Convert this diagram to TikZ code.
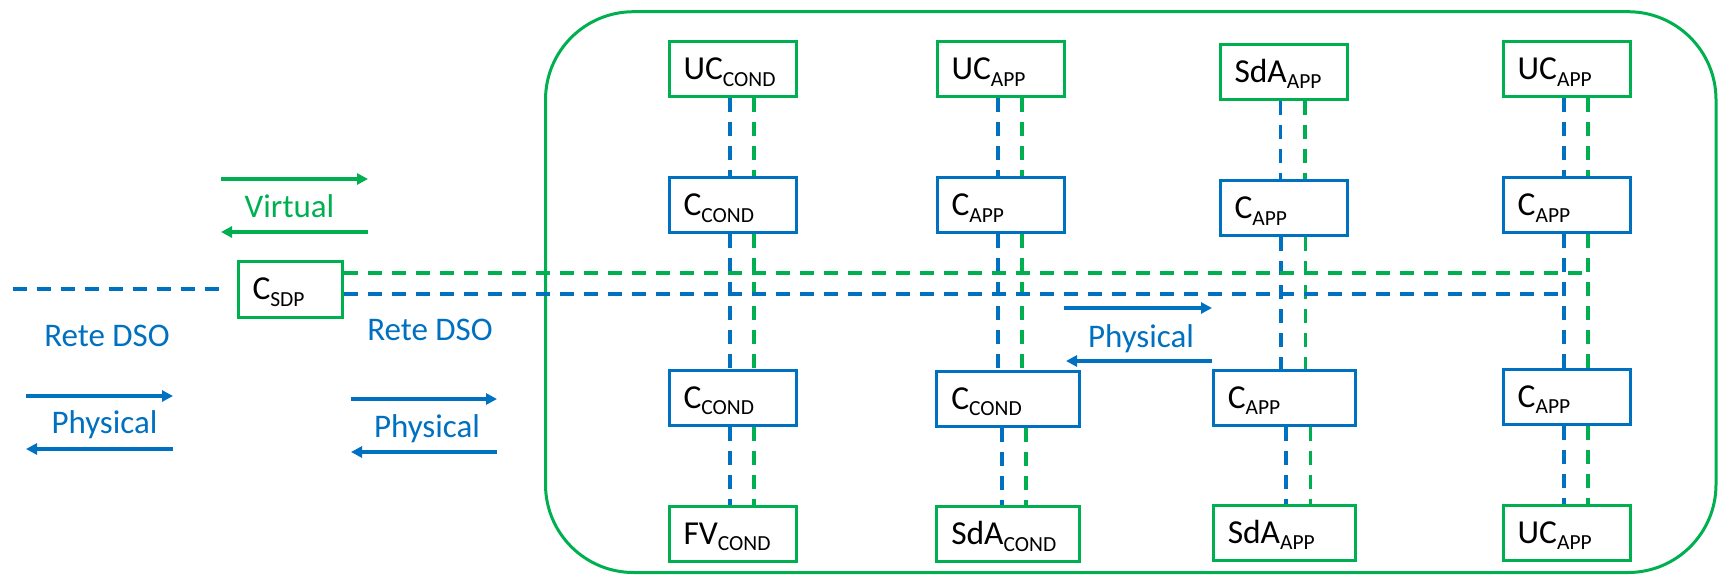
\documentclass[tikz,border=0pt]{standalone}
\usepackage{fontspec}
\setmainfont{Carlito}
\usetikzlibrary{arrows.meta}
\definecolor{ablue}{HTML}{0070C0}
\definecolor{agreen}{HTML}{00B050}
\newcommand{\lsub}[1]{\raisebox{-6.5pt}{\fontsize{21.5}{24}\selectfont #1}}
\begin{document}
\begin{tikzpicture}[x=1pt,y=-1pt,
  box/.style={draw, line width=3pt, inner xsep=14.5pt, inner ysep=0pt, minimum height=55pt,
    text height=24pt, text depth=3pt, align=left, text=black, font=\fontsize{33.5}{40}\selectfont},
  gbox/.style={box, draw=agreen},
  bbox/.style={box, draw=ablue},
  w1/.style={text width=98pt},
  w2/.style={text width=113.5pt},
  bd/.style={draw=ablue, line width=3.3pt, dash pattern=on 14pt off 10pt},
  gd/.style={draw=agreen, line width=3.3pt, dash pattern=on 14pt off 10pt},
  arr/.style={line width=3.2pt, -{Triangle[length=11pt,width=11pt]}},
  lbl/.style={anchor=base, font=\fontsize{33}{40}\selectfont, inner sep=0pt},
]
\useasboundingbox (0,0) rectangle (1718,574);

% outer frame
\draw[draw=agreen, line width=3pt, rounded corners=88pt] (545.5,11.7) rectangle (1716,572.5);

% top row
\node[gbox,w1] (uc1) at (732.5,69) {UC\lsub{COND}};
\node[gbox,w1] (uc2) at (1000.5,69) {UC\lsub{APP}};
\node[gbox,w1] (sda3) at (1283.5,71.7) {SdA\lsub{APP}};
\node[gbox,w1] (uc4) at (1566.7,69) {UC\lsub{APP}};
% second row
\node[bbox,w1] (c1) at (732.5,205.2) {C\lsub{COND}};
\node[bbox,w1] (c2) at (1000.5,205.2) {C\lsub{APP}};
\node[bbox,w1] (c3) at (1283.5,208) {C\lsub{APP}};
\node[bbox,w1] (c4) at (1566.7,205.2) {C\lsub{APP}};
% third row
\node[bbox,w1] (d1) at (732.5,397.8) {C\lsub{COND}};
\node[bbox,w2] (d2) at (1008,398.5) {C\lsub{COND}};
\node[bbox,w2] (d3) at (1284.5,397.5) {C\lsub{APP}};
\node[bbox,w1] (d4) at (1566.7,396.7) {C\lsub{APP}};
% bottom row
\node[gbox,w1] (e1) at (732.5,533.8) {FV\lsub{COND}};
\node[gbox,w2] (e2) at (1008,534) {SdA\lsub{COND}};
\node[gbox,w2] (e3) at (1284.5,532.8) {SdA\lsub{APP}};
\node[gbox,w1] (e4) at (1566.7,532.8) {UC\lsub{APP}};
% C_SDP
\node[gbox,text width=75pt,minimum height=56pt] (sdp) at (290,289) {C\lsub{SDP}};

% column 1
\draw[bd] ([xshift=-2.5pt]uc1.south) -- ([xshift=-2.5pt]c1.north);
\draw[gd] ([xshift=21.5pt]uc1.south) -- ([xshift=21.5pt]c1.north);
\draw[bd] ([xshift=-2.5pt]c1.south) -- ([xshift=-2.5pt]d1.north);
\draw[gd] ([xshift=21.5pt]c1.south) -- ([xshift=21.5pt]d1.north);
\draw[bd] ([xshift=-2.5pt]d1.south) -- ([xshift=-2.5pt]e1.north);
\draw[gd] ([xshift=21.5pt]d1.south) -- ([xshift=21.5pt]e1.north);
% column 2
\draw[bd] ([xshift=-2.5pt]uc2.south) -- ([xshift=-2.5pt]c2.north);
\draw[gd] ([xshift=21.5pt]uc2.south) -- ([xshift=21.5pt]c2.north);
\draw[bd] ([xshift=-2.5pt]c2.south) -- ([xshift=-2.5pt]c2.south |- d2.north);
\draw[gd] ([xshift=21.5pt]c2.south) -- ([xshift=21.5pt]c2.south |- d2.north);
\draw[bd] ([xshift=-6pt]d2.south) -- ([xshift=-6pt]e2.north);
\draw[gd] ([xshift=18pt]d2.south) -- ([xshift=18pt]e2.north);
% column 3
\draw[bd] ([xshift=-3pt]sda3.south) -- ([xshift=-3pt]c3.north);
\draw[gd] ([xshift=21.5pt]sda3.south) -- ([xshift=21.5pt]c3.north);
\draw[bd] ([xshift=-2.5pt]c3.south) -- ([xshift=-2.5pt]c3.south |- d3.north);
\draw[gd] ([xshift=22pt]c3.south) -- ([xshift=22pt]c3.south |- d3.north);
\draw[bd] ([xshift=1.5pt]d3.south) -- ([xshift=1.5pt]e3.north);
\draw[gd] ([xshift=26pt]d3.south) -- ([xshift=26pt]e3.north);
% column 4
\draw[bd] ([xshift=-2.7pt]uc4.south) -- ([xshift=-2.7pt]c4.north);
\draw[gd] ([xshift=21.3pt]uc4.south) -- ([xshift=21.3pt]c4.north);
\draw[bd] ([xshift=-2.7pt]c4.south) -- ([xshift=-2.7pt]d4.north);
\draw[gd] ([xshift=21.3pt]c4.south) -- ([xshift=21.3pt]d4.north);
\draw[bd] ([xshift=-2.7pt]d4.south) -- ([xshift=-2.7pt]e4.north);
\draw[gd] ([xshift=21.3pt]d4.south) -- ([xshift=21.3pt]e4.north);

% horizontal links from C_SDP
\coordinate (lft) at (12.5,289);
\coordinate (gturn) at (1588,273);
\coordinate (bturn) at (1564,294);
\draw[bd, shorten >=9pt] (lft) -- (sdp.west);
\draw[gd] (gturn -| sdp.east) -- (gturn);
\draw[bd] (bturn -| sdp.east) -- (bturn);

% legend arrows and labels
\coordinate (va1) at (221,179); \coordinate (va2) at (368,179);
\coordinate (vb1) at (368,232); \coordinate (vb2) at (221,232);
\draw[arr, draw=agreen] (va1) -- (va2);
\draw[arr, draw=agreen] (vb1) -- (vb2);
\node[lbl, text=agreen] (virt) at (289.5,217) {Virtual};

\coordinate (pa1) at (26,396); \coordinate (pa2) at (173,396);
\coordinate (pb1) at (173,449); \coordinate (pb2) at (26,449);
\draw[arr, draw=ablue] (pa1) -- (pa2);
\draw[arr, draw=ablue] (pb1) -- (pb2);
\node[lbl, text=ablue] (phys1) at (104.5,433) {Physical};

\coordinate (qa1) at (351,399); \coordinate (qa2) at (497,399);
\coordinate (qb1) at (497,452); \coordinate (qb2) at (351,452);
\draw[arr, draw=ablue] (qa1) -- (qa2);
\draw[arr, draw=ablue] (qb1) -- (qb2);
\node[lbl, text=ablue] (phys2) at (427,437) {Physical};

\coordinate (ma1) at (1064,308); \coordinate (ma2) at (1212,308);
\coordinate (mb1) at (1212,361); \coordinate (mb2) at (1066,361);
\draw[arr, draw=ablue] (ma1) -- (ma2);
\draw[arr, draw=ablue] (mb1) -- (mb2);
\node[lbl, text=ablue] (phys3) at (1141,347) {Physical};

\node[lbl, text=ablue] (rete1) at (107,346) {Rete DSO};
\node[lbl, text=ablue] (rete2) at (430,340) {Rete DSO};
\end{tikzpicture}
\end{document}
